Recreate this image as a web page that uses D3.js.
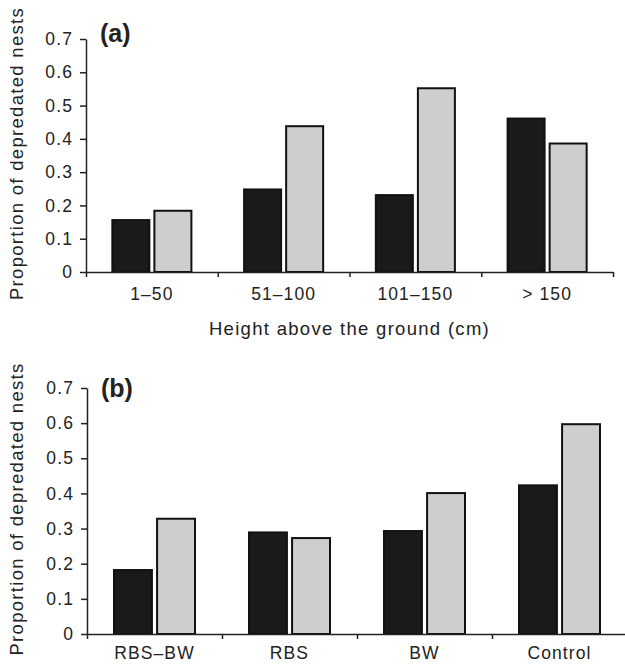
<!DOCTYPE html>
<html>
<head>
<meta charset="utf-8">
<script src="https://cdn.jsdelivr.net/npm/d3@7"></script>
<style>
  body { margin: 0; background: #fff; }
  svg { display: block; font-family: "Liberation Sans", Arial, Helvetica, sans-serif; }
  .axis path, .axis line { stroke: #222; stroke-width: 1.5; }
  .axis text { fill: #222; font-size: 17.5px; letter-spacing: 1.1px; }
  .title { fill: #222; font-size: 18.5px; letter-spacing: 1.3px; }
</style>
</head>
<body>
<svg id="chart" width="625" height="664"></svg>
<script>
// data
const heightCats = ["1\u201350", "51\u2013100", "101\u2013150", "> 150"];
const heightDark = [0.156, 0.248, 0.231, 0.461];
const heightGrey = [0.184, 0.438, 0.552, 0.386];

const treatCats = ["RBS\u2013BW", "RBS", "BW", "Control"];
const treatDark = [0.182, 0.289, 0.293, 0.423];
const treatGrey = [0.328, 0.273, 0.401, 0.597];

const yTicks = [0, 0.1, 0.2, 0.3, 0.4, 0.5, 0.6, 0.7];
const seriesKeys = ["dark", "grey"];
const seriesFill = { dark: "#1a1a1a", grey: "#cdcfce" };

const svg = d3.select("#chart");

function drawPanel(opt) {
  const { cats, dark, grey, left, right, top, bottom, tag, tagY, labelPad, xTitle } = opt;

  const rows = cats.map((c, i) => ({ cat: c, dark: dark[i], grey: grey[i] }));

  const x = d3.scaleBand().domain(cats).range([left, right]);
  const bw = x.bandwidth();
  const xSub = d3.scaleBand().domain(seriesKeys)
      .range([bw * 0.2, bw * 0.8]).paddingInner(0.12);
  const y = d3.scaleLinear().domain([0, 0.7]).range([bottom, top]);

  const g = svg.append("g");

  // bars
  g.append("g")
    .selectAll("g")
    .data(rows)
    .join("g")
    .attr("transform", d => `translate(${x(d.cat)},0)`)
    .selectAll("rect")
    .data(d => seriesKeys.map(k => ({ key: k, value: d[k] })))
    .join("rect")
    .attr("x", d => xSub(d.key))
    .attr("width", xSub.bandwidth())
    .attr("y", d => y(d.value))
    .attr("height", d => y(0) - y(d.value))
    .attr("fill", d => seriesFill[d.key])
    .attr("stroke", "#111")
    .attr("stroke-width", 2);

  // y axis
  g.append("g")
    .attr("class", "axis")
    .attr("transform", `translate(${left},0)`)
    .call(d3.axisLeft(y).tickValues(yTicks).tickSize(6).tickSizeOuter(0).tickPadding(7)
      .tickFormat(d => d === 0 ? "0" : d3.format(".1f")(d)));

  // x axis: boundary ticks
  const xb = d3.scaleLinear().domain([0, cats.length]).range([left, right]);
  g.append("g")
    .attr("class", "axis")
    .attr("transform", `translate(0,${bottom})`)
    .call(d3.axisBottom(xb).ticks(cats.length).tickSize(5).tickSizeOuter(0).tickFormat(""));

  // x axis: category labels
  g.append("g")
    .attr("class", "axis")
    .attr("transform", `translate(0,${bottom})`)
    .call(d3.axisBottom(x).tickSize(0).tickPadding(labelPad))
    .call(a => a.select(".domain").remove());

  // panel tag
  g.append("text")
    .attr("x", left + 14)
    .attr("y", tagY)
    .attr("font-size", 25)
    .attr("font-weight", "bold")
    .attr("fill", "#222")
    .text(tag);

  // y title
  g.append("text")
    .attr("class", "title")
    .attr("transform", `translate(23,${(top + bottom) / 2 - 2}) rotate(-90)`)
    .attr("text-anchor", "middle")
    .text("Proportion of depredated nests");

  if (xTitle) {
    g.append("text")
      .attr("class", "title")
      .attr("x", (left + right) / 2)
      .attr("y", bottom + 63)
      .attr("text-anchor", "middle")
      .text(xTitle);
  }
}

drawPanel({
  cats: heightCats, dark: heightDark, grey: heightGrey,
  left: 86, right: 613, top: 39, bottom: 272,
  tag: "(a)", tagY: 41.5, labelPad: 16, xTitle: "Height above the ground (cm)"
});

drawPanel({
  cats: treatCats, dark: treatDark, grey: treatGrey,
  left: 87, right: 627, top: 388, bottom: 634,
  tag: "(b)", tagY: 396.5, labelPad: 13, xTitle: null
});
</script>
</body>
</html>
